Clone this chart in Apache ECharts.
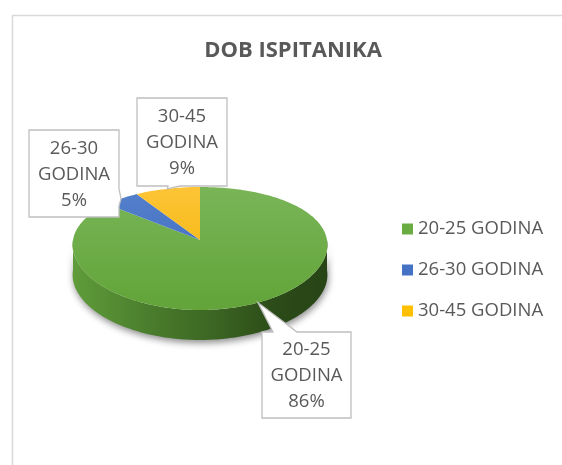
<!DOCTYPE html>
<html>
<head>
<meta charset="utf-8">
<script src="https://cdn.jsdelivr.net/npm/echarts@6/dist/echarts.min.js"></script>
<style>
html, body { margin: 0; padding: 0; background: #fff; }
#chart { width: 562px; height: 465px; }
</style>
</head>
<body>
<div id="chart"></div>
<script>
var categories = ['20-25 GODINA', '26-30 GODINA', '30-45 GODINA'];
var values = [86, 5, 9];
var colors = ['#6aab42', '#4472c4', '#ffc000'];

// pie geometry (3D look, tilted with a bit of perspective)
var cx = 200, apexY = 240, rx = 127, ry = 61.5, persp = 0.138, depth = 30;
var total = values.reduce(function (a, b) { return a + b; }, 0);

var topFill = [
	['#7bb65a', '#63a53a'],
	['#5581cc', '#3e6bbf'],
	['#fec53a', '#f2b400']
];
var sideStops = [
	[{ offset: 0, color: '#5f9c3a' }, { offset: 0.3, color: '#4a7d2c' }, { offset: 0.55, color: '#3c6623' }, { offset: 0.8, color: '#2b4b18' }, { offset: 1, color: '#274416' }],
	[{ offset: 0, color: '#2f5597' }, { offset: 1, color: '#1f3864' }],
	[{ offset: 0, color: '#bf9000' }, { offset: 1, color: '#7f6000' }]
];

// label boxes: x, y, w, h and where the pointer leaves the box
var boxes = [
	{ x: 262, y: 332, w: 89, h: 86, side: 'top', a: 273, b: 297 },
	{ x: 29, y: 130, w: 90, h: 87, side: 'right', a: 189, b: 206 },
	{ x: 137, y: 98, w: 90, h: 88, side: 'bottom', a: 168, b: 180 }
];

function startAngle(i) {
	var s = 0;
	for (var k = 0; k < i; k++) s += values[k];
	return s / total * Math.PI * 2;
}
function endAngle(i) {
	return startAngle(i) + values[i] / total * Math.PI * 2;
}
// angle measured clockwise from 12 o'clock
function proj(t, dz) {
	var d = Math.cos(t);
	return [
		cx + rx * Math.sin(t) * (1 - 0.08 * d),
		apexY - ry * d * (1 - persp * d) + (dz || 0)
	];
}
function arc(a0, a1, dz) {
	var pts = [];
	var n = Math.max(2, Math.ceil(Math.abs(a1 - a0) / 0.02));
	for (var k = 0; k <= n; k++) {
		pts.push(proj(a0 + (a1 - a0) * k / n, dz));
	}
	return pts;
}

function renderSide(params, api) {
	var i = api.value(0);
	var a0 = Math.max(startAngle(i), Math.PI / 2);
	var a1 = Math.min(endAngle(i), Math.PI * 1.5);
	if (a1 <= a0) return { type: 'group', children: [] };
	var pts = arc(a0, a1, 0).concat(arc(a1, a0, depth));
	return {
		type: 'polygon',
		shape: { points: pts },
		style: {
			fill: new echarts.graphic.LinearGradient(cx - rx, 0, cx + rx, 0, sideStops[i], true),
			shadowBlur: 7,
			shadowColor: 'rgba(0,0,0,0.45)',
			shadowOffsetX: 1,
			shadowOffsetY: 3
		}
	};
}

function renderTop(params, api) {
	var i = api.value(0);
	var pts = [[cx, apexY]].concat(arc(startAngle(i), endAngle(i), 0));
	return {
		type: 'polygon',
		shape: { points: pts },
		style: {
			fill: new echarts.graphic.LinearGradient(0, apexY - ry, 0, apexY + ry, [
				{ offset: 0, color: topFill[i][0] },
				{ offset: 1, color: topFill[i][1] }
			], true)
		}
	};
}

function renderLabel(params, api) {
	var i = api.value(0);
	var b = boxes[i];
	var mid = (startAngle(i) + endAngle(i)) / 2;
	var tip = proj(mid, 0);
	var x0 = b.x, y0 = b.y, x1 = b.x + b.w, y1 = b.y + b.h;
	var pts = [[x0, y0]];
	if (b.side === 'top') pts.push([b.a, y0], tip, [b.b, y0]);
	pts.push([x1, y0]);
	if (b.side === 'right') pts.push([x1, b.a], tip, [x1, b.b]);
	pts.push([x1, y1]);
	if (b.side === 'bottom') pts.push([b.b, y1], tip, [b.a, y1]);
	pts.push([x0, y1]);
	var pct = Math.round(values[i] / total * 100) + '%';
	return {
		type: 'group',
		children: [
			{
				type: 'polygon',
				shape: { points: pts },
				style: { fill: '#ffffff', stroke: '#bfbfbf', lineWidth: 1.3 }
			},
			{
				type: 'text',
				x: b.x + b.w / 2,
				y: b.y + b.h / 2 + 1,
				style: {
					text: categories[i].replace(' ', '\n') + '\n' + pct,
					fill: '#595959',
					font: '18.5px "Open Sans"',
					lineHeight: 26,
					align: 'center',
					verticalAlign: 'middle'
				}
			}
		]
	};
}

var chartDom = document.getElementById('chart');
var myChart = echarts.init(chartDom);
var option;

var series = [{
	type: 'custom',
	coordinateSystem: 'none',
	silent: true,
	z: 1,
	data: categories.map(function (c, i) { return [i]; }),
	renderItem: renderSide
}];
categories.forEach(function (c, i) {
	series.push({
		name: c,
		type: 'custom',
		coordinateSystem: 'none',
		z: 2,
		itemStyle: { color: colors[i] },
		data: [[i]],
		renderItem: renderTop
	});
});
series.push({
	type: 'custom',
	coordinateSystem: 'none',
	silent: true,
	z: 3,
	data: categories.map(function (c, i) { return [i]; }),
	renderItem: renderLabel
});

option = {
	animation: false,
	title: {
		text: 'DOB ISPITANIKA',
		left: 293,
		top: 40,
		padding: 0,
		textAlign: 'center',
		textStyle: {
			fontFamily: 'Open Sans',
			fontWeight: 'bold',
			fontSize: 22,
			color: '#595959'
		}
	},
	legend: {
		orient: 'vertical',
		left: 402,
		top: 219,
		padding: 0,
		itemWidth: 11,
		itemHeight: 11,
		itemGap: 21,
		icon: 'rect',
		data: categories,
		textStyle: {
			fontFamily: 'Open Sans',
			fontSize: 18.5,
			lineHeight: 20,
			color: '#595959'
		}
	},
	graphic: [{
		type: 'rect',
		left: 10,
		top: 13,
		shape: { width: 600, height: 500 },
		style: { fill: 'none', stroke: '#d9d9d9', lineWidth: 1.5 },
		silent: true,
		z: -1
	}],
	series: series
};

option && myChart.setOption(option);
</script>
</body>
</html>
